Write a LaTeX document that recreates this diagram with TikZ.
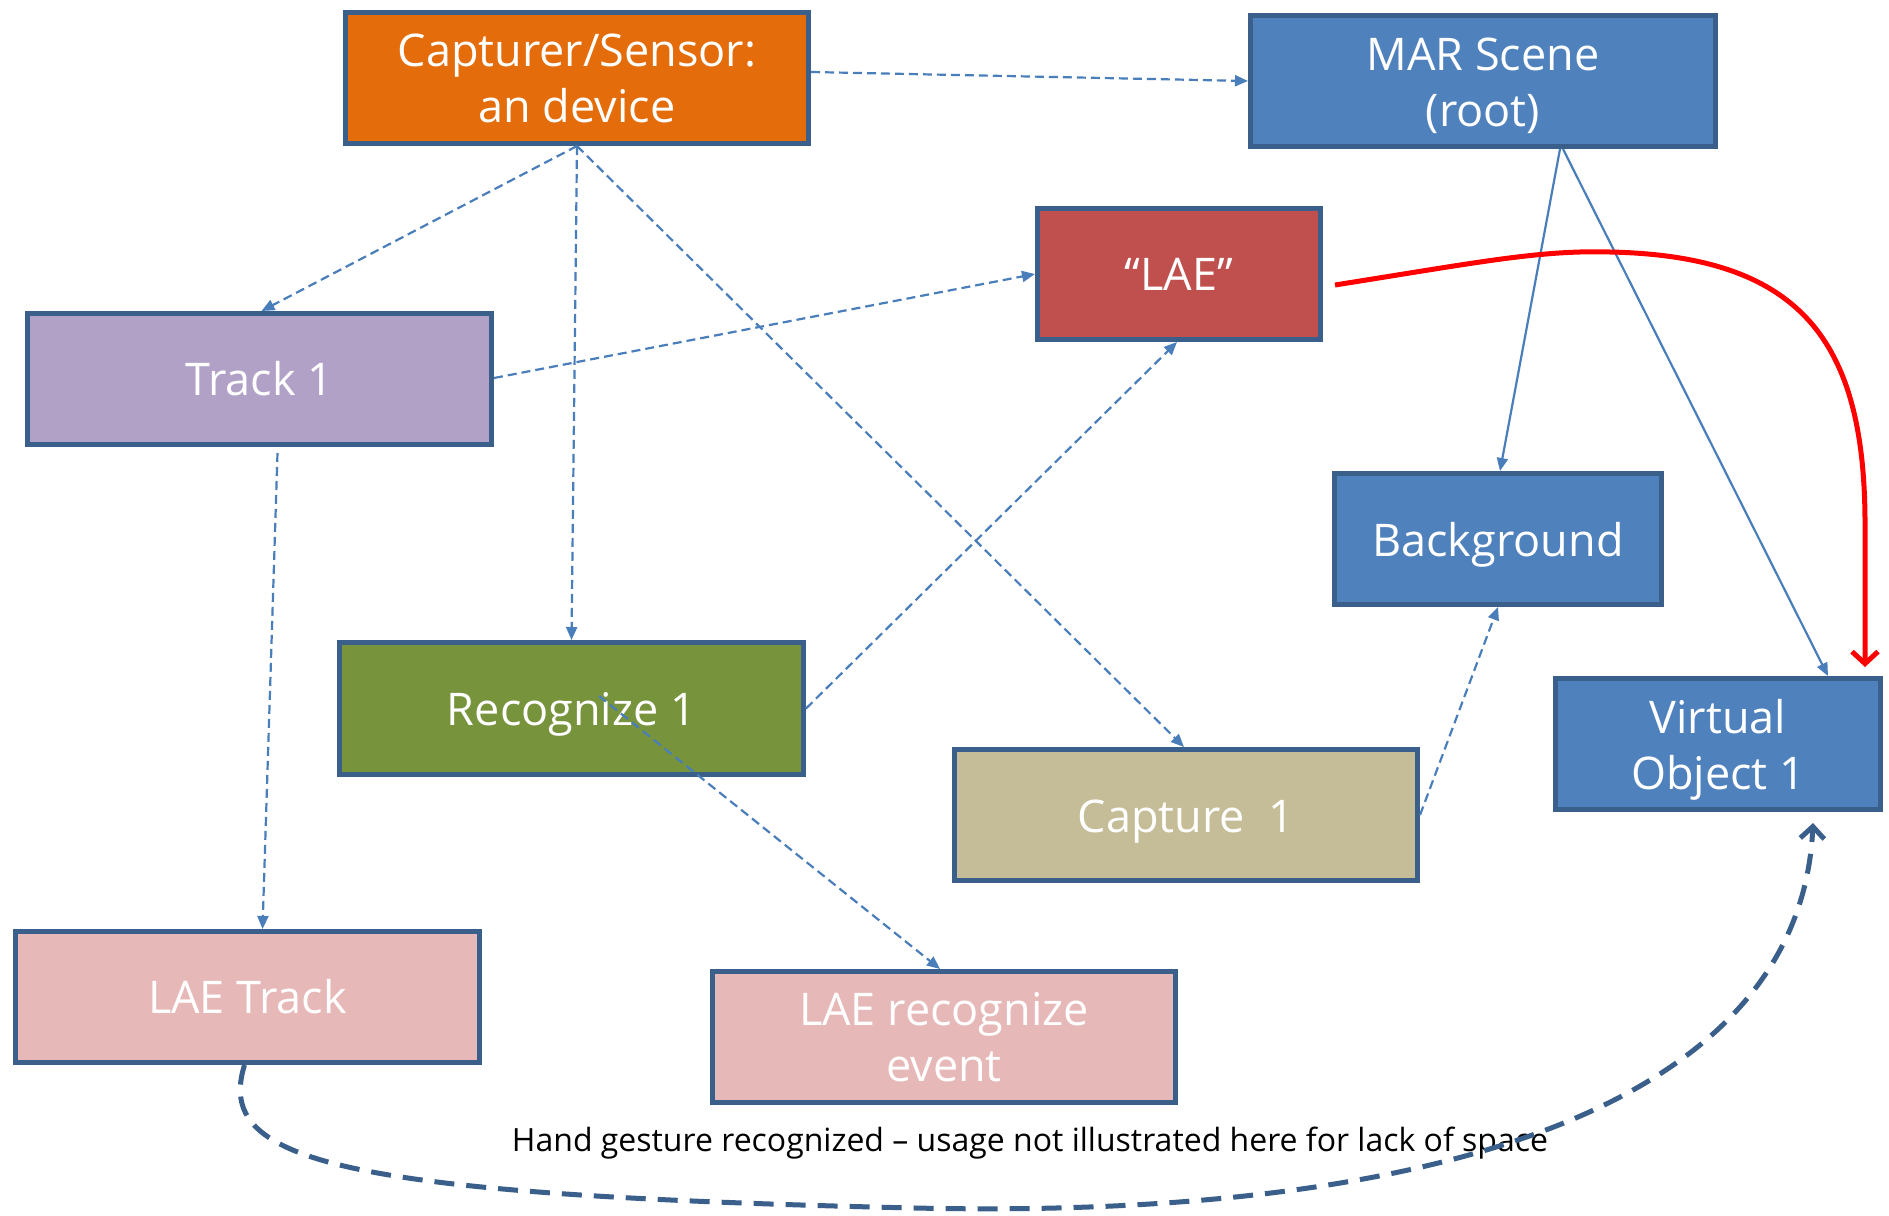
\documentclass[tikz,border=0pt]{standalone}
\usepackage{fontspec}
\setmainfont{Open Sans}
\usetikzlibrary{arrows.meta}
\definecolor{bord}{HTML}{3A5F8B}
\definecolor{conn}{HTML}{4A7EBB}
\definecolor{cOrange}{HTML}{E46C0A}
\definecolor{cBlue}{HTML}{4F81BD}
\definecolor{cRed}{HTML}{C0504D}
\definecolor{cPurple}{HTML}{B2A1C7}
\definecolor{cGreen}{HTML}{77933C}
\definecolor{cTan}{HTML}{C4BD97}
\definecolor{cPink}{HTML}{E6B9B8}
\newcommand{\lowtext}[1]{\raisebox{-6pt}[\height][\depth]{\begin{tabular}{@{}c@{}}#1\end{tabular}}}
\tikzset{
  box/.style={draw=bord, line width=5pt, text=white, align=center,
    font=\fontsize{45}{56}\selectfont, inner sep=0pt},
  dconn/.style={draw=conn, line width=2.2pt, dash pattern=on 9pt off 5pt,
    -{Triangle[length=13pt,width=11pt]}},
  sconn/.style={draw=conn, line width=2.2pt, -{Triangle[length=13pt,width=11pt]}},
}
\begin{document}
\begin{tikzpicture}[x=1pt,y=-1pt]
\useasboundingbox (0,0) rectangle (1889,1215);
\fill[white] (0,0) rectangle (1889,1215);
\node[box, fill=cOrange, minimum width=463, minimum height=131] (cap) at (577,78) {Capturer/Sensor:\\an device};
\node[box, fill=cBlue, minimum width=465, minimum height=131] (mar) at (1483,81) {\lowtext{MAR Scene\\(root)}};
\node[box, fill=cRed, minimum width=283, minimum height=131] (lae) at (1179,274) {“LAE”};
\node[box, fill=cPurple, minimum width=464, minimum height=131] (trk) at (259.5,379) {Track 1};
\node[box, fill=cBlue, minimum width=327, minimum height=131] (bg) at (1498,539) {\lowtext{Background}};
\node[box, fill=cBlue, minimum width=325, minimum height=131] (vo) at (1718,744) {\lowtext{Virtual\\Object 1}};
\node[box, fill=cGreen, minimum width=464, minimum height=132] (rec) at (571.5,708.5) {\lowtext{Recognize 1}};
\node[box, fill=cTan, minimum width=463, minimum height=131] (capt) at (1186,815) {\lowtext{Capture\ \ 1}};
\node[box, fill=cPink, minimum width=464, minimum height=131] (laet) at (247.5,997) {LAE Track};
\node[box, fill=cPink, minimum width=463, minimum height=131] (laer) at (944,1037) {LAE recognize\\event};
\node[font=\fontsize{32}{36}\selectfont, text=black] (note) at (1030,1143) {Hand gesture recognized – usage not illustrated here for lack of space};
\coordinate (recstart) at (599,696);

% dashed connectors
\draw[dconn] ([yshift=6pt]cap.east) -- (mar.west);
\draw[dconn] (cap.south) -- ([xshift=2pt]trk.north);
\draw[dconn] (cap.south) -- (rec.north);
\draw[dconn] (cap.south) -- ([xshift=-2pt]capt.north);
\draw[dconn] ([yshift=1pt]trk.east) -- (lae.west);
\draw[dconn] (rec.east) -- ([xshift=-2pt]lae.south);
\draw[dconn] ([xshift=18pt,yshift=-6pt]trk.south) -- ([xshift=15pt]laet.north);
\draw[dconn] (recstart) -- ([xshift=-4pt]laer.north);
\draw[dconn] (capt.east) -- (bg.south);
% solid connectors
\draw[sconn] ([xshift=77pt]mar.south) -- ([xshift=2pt]bg.north);
\draw[sconn] ([xshift=80pt]mar.south) -- ([xshift=110pt]vo.north);
% red curve
\draw[red, line width=5pt, -{Straight Barb[length=12pt,width=26pt]}]
  ([xshift=12pt,yshift=-11pt]lae.east) .. controls (1480,262) and (1540,250) .. (1610,252)
  .. controls (1800,256) and (1864,340) .. (1865,520) -- ([xshift=147pt,yshift=9pt]vo.north);
% bottom dashed curve
\draw[bord, line width=5pt, dash pattern=on 20pt off 12pt, -{Straight Barb[length=12pt,width=24pt]}]
  ([xshift=-3pt]laet.south) .. controls (215,1160) and (330,1195) .. (915,1208)
  .. controls (1450,1220) and (1800,1100) .. ([xshift=95pt,yshift=-11pt]vo.south);
\end{tikzpicture}
\end{document}
